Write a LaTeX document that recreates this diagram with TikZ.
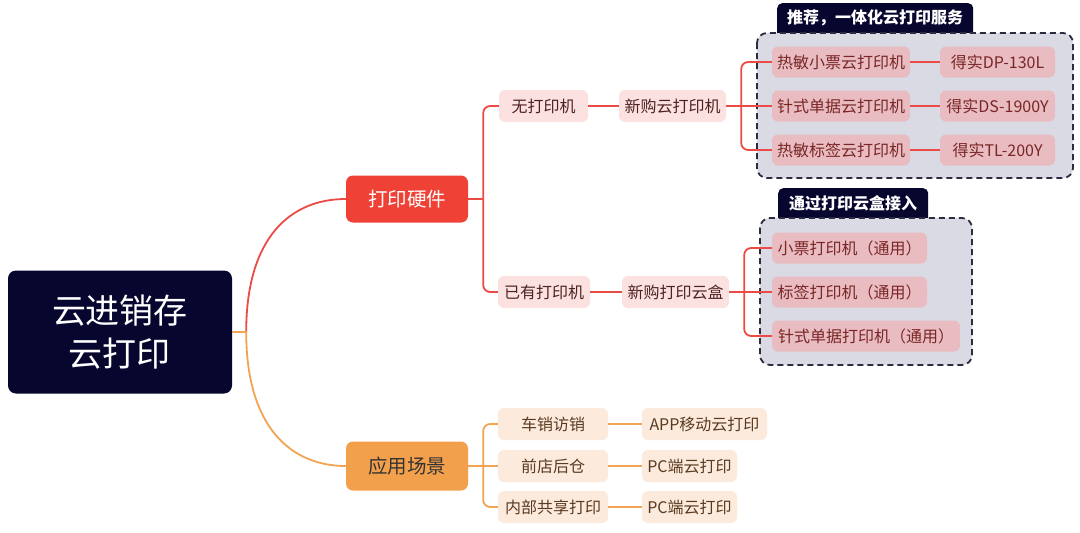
\documentclass[tikz,border=0pt]{standalone}
\usepackage{fontspec}
\setmainfont{Noto Sans CJK SC}
\usetikzlibrary{calc}
\definecolor{navy}{HTML}{06062E}
\definecolor{hwred}{HTML}{EF4136}
\definecolor{appor}{HTML}{F3A04C}
\definecolor{redline}{HTML}{EC4A44}
\definecolor{orline}{HTML}{F2A453}
\definecolor{pinklt}{HTML}{FCE1E1}
\definecolor{pinkit}{HTML}{E8BCC0}
\definecolor{pinktx}{HTML}{7A2626}
\definecolor{lvtx}{HTML}{4E2222}
\definecolor{grpfill}{HTML}{DADAE4}
\definecolor{grpline}{HTML}{2C2C40}
\definecolor{peach}{HTML}{FCEBDC}
\definecolor{peachtx}{HTML}{5A3A20}
\tikzset{
  box/.style={rounded corners=6pt, inner sep=0pt, minimum height=32pt, font=\fontsize{16}{18}\selectfont},
  lvtwo/.style={box, fill=pinklt, text=lvtx},
  item/.style={box, fill=pinkit, text=pinktx, minimum height=31pt},
  appitem/.style={box, fill=peach, text=peachtx},
  tab/.style={fill=navy, rounded corners=5pt, inner sep=0pt},
  tabtext/.style={text=white, inner sep=0pt, font=\fontsize{16}{18}\selectfont\bfseries},
  grp/.style={fill=grpfill, draw=grpline, line width=1.8pt, dash pattern=on 6pt off 4pt, rounded corners=10pt},
  rl/.style={draw=redline, line width=1.8pt, rounded corners=7pt},
  ol/.style={draw=orline, line width=1.8pt, rounded corners=7pt},
}
\begin{document}
\begin{tikzpicture}[x=1pt,y=-1pt]
\useasboundingbox (0,0) rectangle (1080,533);
\fill[white] (0,0) rectangle (1080,533);

% group backgrounds and tabs
\node[tab, anchor=north west, minimum width=196pt, minimum height=38pt] (tab1) at (777,3) {};
\node[tabtext] (tab1t) at (875,18) {推荐，一体化云打印服务};
\draw[grp] (757,33) rectangle (1073,178);
\node[tab, anchor=north west, minimum width=150pt, minimum height=36pt] (tab2) at (778,188) {};
\node[tabtext] (tab2t) at (853,203) {通过打印云盒接入};
\draw[grp] (760,218) rectangle (972,365);

% root and main branches
\node[fill=navy, text=white, rounded corners=8pt, minimum width=224pt, minimum height=123pt, align=center, font=\fontsize{34}{43}\selectfont] (root) at (120,332) {云进销存\\云打印};
\node[fill=hwred, text=white, rounded corners=7pt, minimum width=122pt, minimum height=47pt, font=\fontsize{19.5}{22}\selectfont] (hw) at (407,199) {打印硬件};
\node[fill=appor, text=black!80, rounded corners=7pt, minimum width=122pt, minimum height=49pt, font=\fontsize{19.5}{22}\selectfont] (app) at (407,466) {应用场景};

% level two
\node[lvtwo, minimum width=89pt] (nop) at (543.5,106) {无打印机};
\node[lvtwo, minimum width=107pt] (buyp) at (672.5,106) {新购云打印机};
\node[lvtwo, minimum width=92pt] (hasp) at (544,292) {已有打印机};
\node[lvtwo, minimum width=107pt] (buyb) at (675.5,292) {新购打印云盒};

% group 1 items
\node[item, minimum width=138pt] (g1a) at (841,62) {热敏小票云打印机};
\node[item, minimum width=138pt] (g1b) at (841,106) {针式单据云打印机};
\node[item, minimum width=138pt] (g1c) at (841,150) {热敏标签云打印机};
\node[item, minimum width=115pt] (m1a) at (997.5,62) {得实DP-130L};
\node[item, minimum width=115pt] (m1b) at (997.5,106) {得实DS-1900Y};
\node[item, minimum width=115pt] (m1c) at (997.5,150) {得实TL-200Y};

% group 2 items
\node[item, minimum width=155pt] (g2a) at (849.5,248) {小票打印机（通用）};
\node[item, minimum width=155pt] (g2b) at (849.5,292) {标签打印机（通用）};
\node[item, minimum width=188pt] (g2c) at (866,336) {针式单据打印机（通用）};

% application scenes
\node[appitem, minimum width=110pt] (s1) at (553,424) {车销访销};
\node[appitem, minimum width=110pt] (s2) at (553,466) {前店后仓};
\node[appitem, minimum width=110pt] (s3) at (553,507) {内部共享打印};
\node[appitem, minimum width=125pt] (t1) at (704.5,424) {APP移动云打印};
\node[appitem, minimum width=95pt] (t2) at (689.5,466) {PC端云打印};
\node[appitem, minimum width=95pt] (t3) at (689.5,507) {PC端云打印};

% connectors from root
\coordinate (rj) at ($(root.east)+(14,0)$);
\draw[draw=redline, line width=1.8pt] (rj) .. controls +(0,-95) and +(-55,0) .. (hw.west);
\draw[draw=orline, line width=1.8pt] (root.east) -- (rj) .. controls +(0,95) and +(-55,0) .. (app.west);

% hardware branch
\coordinate (b1) at ([xshift=15pt]hw.east);
\draw[rl] (hw.east) -- (b1);
\draw[rl] (nop.west) -- (nop.west -| b1) |- (hasp.west);
\draw[rl] (nop.east) -- (buyp.west);
\draw[rl] (hasp.east) -- (buyb.west);

\coordinate (b2) at ([xshift=15pt]buyp.east);
\draw[rl] (buyp.east) -- (b2);
\draw[rl] (g1a.west) -- (g1a.west -| b2) |- (g1c.west);
\draw[rl] (b2) -- (g1b.west);
\draw[rl] (g1a.east) -- (m1a.west);
\draw[rl] (g1b.east) -- (m1b.west);
\draw[rl] (g1c.east) -- (m1c.west);

\coordinate (b3) at ([xshift=15pt]buyb.east);
\draw[rl] (buyb.east) -- (b3);
\draw[rl] (g2a.west) -- (g2a.west -| b3) |- (g2c.west);
\draw[rl] (b3) -- (g2b.west);

% application branch
\coordinate (b4) at ([xshift=15pt]app.east);
\draw[ol] (app.east) -- (b4);
\draw[ol] (s1.west) -- (s1.west -| b4) |- (s3.west);
\draw[ol] (b4) -- (s2.west);
\draw[ol] (s1.east) -- (t1.west);
\draw[ol] (s2.east) -- (t2.west);
\draw[ol] (s3.east) -- (t3.west);
\end{tikzpicture}
\end{document}
